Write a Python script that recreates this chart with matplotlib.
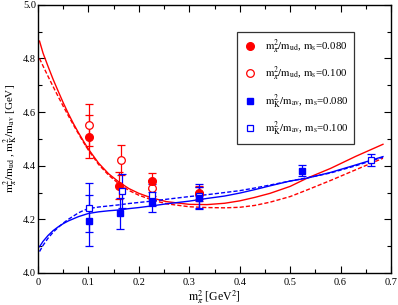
import matplotlib
matplotlib.use('Agg')
import matplotlib.pyplot as plt
from matplotlib.ticker import MultipleLocator

plt.rcParams['font.family'] = ['Liberation Serif', 'DejaVu Serif']
plt.rcParams['mathtext.fontset'] = 'stix'

# data points
pi_x_080 = [0.101, 0.161, 0.227, 0.320]
pi_y_080 = [4.509, 4.326, 4.343, 4.300]
pi_e_080 = [0.080, 0.050, 0.030, 0.025]

pi_x_100 = [0.102, 0.165, 0.227, 0.320]
pi_y_100 = [4.552, 4.422, 4.316, 4.295]
pi_e_100 = [0.080, 0.055, 0.030, 0.025]

k_x_080 = [0.101, 0.162, 0.227, 0.320, 0.523]
k_y_080 = [4.195, 4.223, 4.264, 4.279, 4.382]
k_e_080 = [0.095, 0.058, 0.038, 0.040, 0.022]

k_x_100 = [0.102, 0.166, 0.227, 0.320, 0.660]
k_y_100 = [4.244, 4.306, 4.291, 4.287, 4.422]
k_e_100 = [0.093, 0.062, 0.040, 0.045, 0.023]

# fit curves
fit_x = [0.003, 0.01, 0.02, 0.03, 0.04, 0.05, 0.06, 0.07, 0.08, 0.09, 0.10,
         0.12, 0.14, 0.16, 0.18, 0.20, 0.225, 0.255, 0.30, 0.335, 0.37, 0.40,
         0.43, 0.46, 0.50, 0.534, 0.58, 0.63, 0.684]
pi_fit_080 = [4.865, 4.82, 4.77, 4.722, 4.678, 4.635, 4.595, 4.558, 4.524,
              4.492, 4.462, 4.41, 4.37, 4.34, 4.315, 4.297, 4.28, 4.266,
              4.256, 4.255, 4.26, 4.269, 4.282, 4.297, 4.323, 4.354, 4.39,
              4.435, 4.48]
pi_fit_100 = [4.80, 4.772, 4.733, 4.695, 4.658, 4.622, 4.587, 4.553, 4.52,
              4.488, 4.458, 4.405, 4.365, 4.333, 4.308, 4.29, 4.273, 4.258,
              4.247, 4.244, 4.243, 4.245, 4.252, 4.264, 4.285, 4.31, 4.345,
              4.385, 4.428]
k_fit_080 = [4.098, 4.118, 4.14, 4.158, 4.172, 4.184, 4.194, 4.202, 4.21,
             4.216, 4.222, 4.228, 4.232, 4.235, 4.240, 4.244, 4.250, 4.258,
             4.268, 4.278, 4.287, 4.298, 4.311, 4.325, 4.343, 4.354, 4.375,
             4.403, 4.434]
k_fit_100 = [4.08, 4.103, 4.13, 4.152, 4.17, 4.186, 4.2, 4.212, 4.224, 4.233,
             4.240, 4.246, 4.250, 4.254, 4.259, 4.263, 4.268, 4.275, 4.285,
             4.292, 4.300, 4.307, 4.317, 4.328, 4.343, 4.355, 4.373, 4.400,
             4.432]

red = '#ff0000'
blue = '#0000ff'

fig = plt.figure(figsize=(3.98, 3.05), dpi=100)
ax = fig.add_axes([0.0955, 0.105, 0.887, 0.879])

ax.plot(fit_x, pi_fit_080, color=red, lw=1.0)
ax.plot(fit_x, pi_fit_100, color=red, lw=1.0, dashes=(3, 1.5))
ax.plot(fit_x, k_fit_080, color=blue, lw=1.0)
ax.plot(fit_x, k_fit_100, color=blue, lw=1.0, dashes=(3, 1.5))

eb = dict(capsize=3.2, elinewidth=0.9, capthick=0.9, linestyle='none')
lab_pi_100 = r'$\mathrm{m}_{\pi}^{2}/\mathrm{m}_{\mathrm{ud}}$, $\mathrm{m}_{\mathrm{s}}$=0.100'
lab_pi_080 = r'$\mathrm{m}_{\pi}^{2}/\mathrm{m}_{\mathrm{ud}}$, $\mathrm{m}_{\mathrm{s}}$=0.080'
lab_k_100 = r'$\mathrm{m}_{\mathrm{K}}^{2}/\mathrm{m}_{\mathrm{av}}$, $\mathrm{m}_{\mathrm{s}}$=0.100'
lab_k_080 = r'$\mathrm{m}_{\mathrm{K}}^{2}/\mathrm{m}_{\mathrm{av}}$, $\mathrm{m}_{\mathrm{s}}$=0.080'
ax.errorbar(pi_x_100, pi_y_100, yerr=pi_e_100, fmt='o', ms=5.5, mfc='white',
            mec=red, ecolor=red, mew=0.9, label=lab_pi_100, **eb)
ax.errorbar(pi_x_080, pi_y_080, yerr=pi_e_080, fmt='o', ms=5.5, mfc=red,
            mec=red, ecolor=red, label=lab_pi_080, **eb)
ax.errorbar(k_x_100, k_y_100, yerr=k_e_100, fmt='s', ms=5, mfc='white',
            mec=blue, ecolor=blue, mew=0.9, label=lab_k_100, **eb)
ax.errorbar(k_x_080, k_y_080, yerr=k_e_080, fmt='s', ms=5, mfc=blue,
            mec=blue, ecolor=blue, label=lab_k_080, **eb)

ax.set_xlim(0, 0.7)
ax.set_ylim(4.0, 5.0)
ax.xaxis.set_major_locator(MultipleLocator(0.1))
ax.xaxis.set_minor_locator(MultipleLocator(0.05))
ax.yaxis.set_major_locator(MultipleLocator(0.2))
ax.yaxis.set_minor_locator(MultipleLocator(0.1))
ax.xaxis.set_major_formatter(plt.FuncFormatter(lambda v, p: '0' if abs(v) < 1e-9 else '%.1f' % v))
ax.tick_params(which='both', direction='in', top=True, right=True, labelsize=7.5, width=0.8)
ax.tick_params(which='major', length=5)
ax.tick_params(which='minor', length=3)
ax.tick_params(axis='y', pad=1.5)
for s in ax.spines.values():
    s.set_linewidth(1.0)

ax.set_xlabel(r'$\mathrm{m}_{\pi}^{2}$ [GeV$^{2}$]', fontsize=8.5, labelpad=1)
ax.set_ylabel(r'$\mathrm{m}_{\pi}^{2}/\mathrm{m}_{\mathrm{ud}}$ , $\mathrm{m}_{\mathrm{K}}^{2}/\mathrm{m}_{\mathrm{av}}$ [GeV]',
              fontsize=8)
ax.yaxis.set_label_coords(-0.05, 0.5)

# legend order as in the picture
h, l = ax.get_legend_handles_labels()
order = [1, 0, 3, 2]
h2 = [hh[0] for hh in h]
leg = ax.legend([h2[i] for i in order], [l[i] for i in order], loc='upper left',
                bbox_to_anchor=(0.564, 0.899), fontsize=7.8, frameon=True, fancybox=False,
                edgecolor='black', handlelength=1.2, handletextpad=0.8,
                labelspacing=0.85, borderpad=0.55, borderaxespad=0)
leg.get_frame().set_linewidth(0.9)

fig.savefig('out.png', dpi=100)
